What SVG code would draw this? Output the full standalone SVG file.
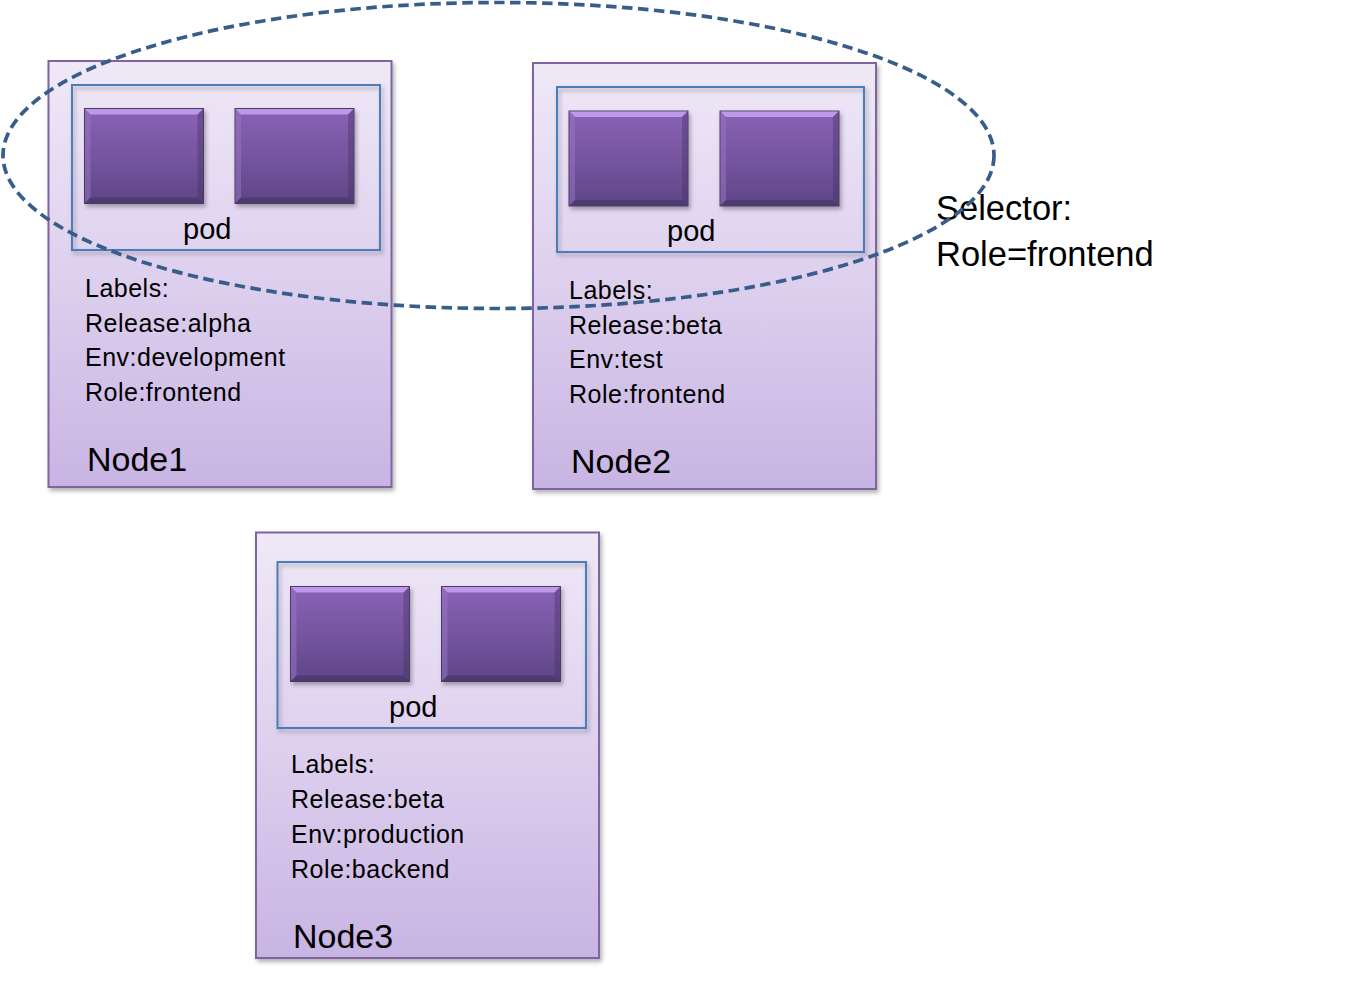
<svg xmlns="http://www.w3.org/2000/svg" width="1349" height="982" viewBox="0 0 1349 982">
<defs>
  <linearGradient id="nodeFill" x1="0" y1="0" x2="0" y2="1">
    <stop offset="0" stop-color="#EFE9F7"/>
    <stop offset="0.5" stop-color="#DED0EE"/>
    <stop offset="1" stop-color="#C8B4E3"/>
  </linearGradient>
  <linearGradient id="ctrFill" x1="0" y1="0" x2="0" y2="1">
    <stop offset="0" stop-color="#8A62B6"/>
    <stop offset="0.5" stop-color="#7555A0"/>
    <stop offset="1" stop-color="#5E4686"/>
  </linearGradient>
  <filter id="shadow" x="-5%" y="-5%" width="115%" height="115%">
    <feDropShadow dx="2" dy="3" stdDeviation="2" flood-color="#000" flood-opacity="0.3"/>
  </filter>
  <g id="ctr">
    <rect x="0" y="0" width="119" height="95" fill="url(#ctrFill)" stroke="#4A3A66" stroke-width="1"/>
    <polygon points="0.5,0.5 118.5,0.5 113,6 6,6" fill="#C9A3F2" opacity="0.85"/>
    <polygon points="0.5,0.5 6,6 6,89 0.5,94.5" fill="#9A76C6" opacity="0.5"/>
    <polygon points="118.5,0.5 113,6 113,89 118.5,94.5" fill="#3E2D5A" opacity="0.35"/>
    <polygon points="0.5,94.5 6,89 113,89 118.5,94.5" fill="#3A2A55" opacity="0.45"/>
  </g>
</defs>
<style>
  .node { fill: url(#nodeFill); stroke: #8064A2; stroke-width: 2; }
  .pod { fill: none; stroke: #4A7EBB; stroke-width: 2; }
  .t { font-family: "Liberation Sans", Arial, sans-serif; fill: #000; }
  .lbl { font-size: 25px; letter-spacing: 0.5px; }
  .podt { font-size: 29px; }
  .name { font-size: 34px; }
  .sel { font-size: 34.5px; }
  .ell { fill: none; stroke: #385D8A; stroke-width: 3.7; stroke-dasharray: 10.5 5.5; }
</style>
<rect x="0" y="0" width="1349" height="982" fill="#FFFFFF"/>

<g id="node1">
  <rect class="node" x="48.5" y="61" width="343" height="426" filter="url(#shadow)"/>
  <rect class="pod" x="72" y="85" width="308" height="165" filter="url(#shadow)"/>
  <use href="#ctr" x="84.5" y="108.5" filter="url(#shadow)"/>
  <use href="#ctr" x="235" y="108.5" filter="url(#shadow)"/>
  <text class="t podt" x="183" y="239">pod</text>
  <text class="t lbl" x="85" y="297">Labels:</text>
  <text class="t lbl" x="85" y="332">Release:alpha</text>
  <text class="t lbl" x="85" y="366">Env:development</text>
  <text class="t lbl" x="85" y="401">Role:frontend</text>
  <text class="t name" x="87" y="471">Node1</text>
</g>

<g id="node2">
  <rect class="node" x="533" y="63" width="343" height="426" filter="url(#shadow)"/>
  <rect class="pod" x="557" y="87" width="307" height="165" filter="url(#shadow)"/>
  <use href="#ctr" x="569" y="111" filter="url(#shadow)"/>
  <use href="#ctr" x="720" y="111" filter="url(#shadow)"/>
  <text class="t podt" x="667" y="241">pod</text>
  <text class="t lbl" x="569" y="299">Labels:</text>
  <text class="t lbl" x="569" y="334">Release:beta</text>
  <text class="t lbl" x="569" y="368">Env:test</text>
  <text class="t lbl" x="569" y="403">Role:frontend</text>
  <text class="t name" x="571" y="473">Node2</text>
</g>

<g id="node3">
  <rect class="node" x="256" y="532.5" width="343" height="425.5" filter="url(#shadow)"/>
  <rect class="pod" x="277.5" y="562" width="308.5" height="166" filter="url(#shadow)"/>
  <use href="#ctr" x="290.5" y="586.5" filter="url(#shadow)"/>
  <use href="#ctr" x="441.5" y="586.5" filter="url(#shadow)"/>
  <text class="t podt" x="389" y="717">pod</text>
  <text class="t lbl" x="291" y="773">Labels:</text>
  <text class="t lbl" x="291" y="808">Release:beta</text>
  <text class="t lbl" x="291" y="843">Env:production</text>
  <text class="t lbl" x="291" y="878">Role:backend</text>
  <text class="t name" x="293" y="948">Node3</text>
</g>

<g id="selector-label">
  <text class="t sel" x="936" y="220">Selector:</text>
  <text class="t sel" x="936" y="266">Role=frontend</text>
</g>

<g id="connectors">
  <ellipse id="selector" class="ell" cx="498.5" cy="155.5" rx="495.5" ry="153"/>
</g>
</svg>
